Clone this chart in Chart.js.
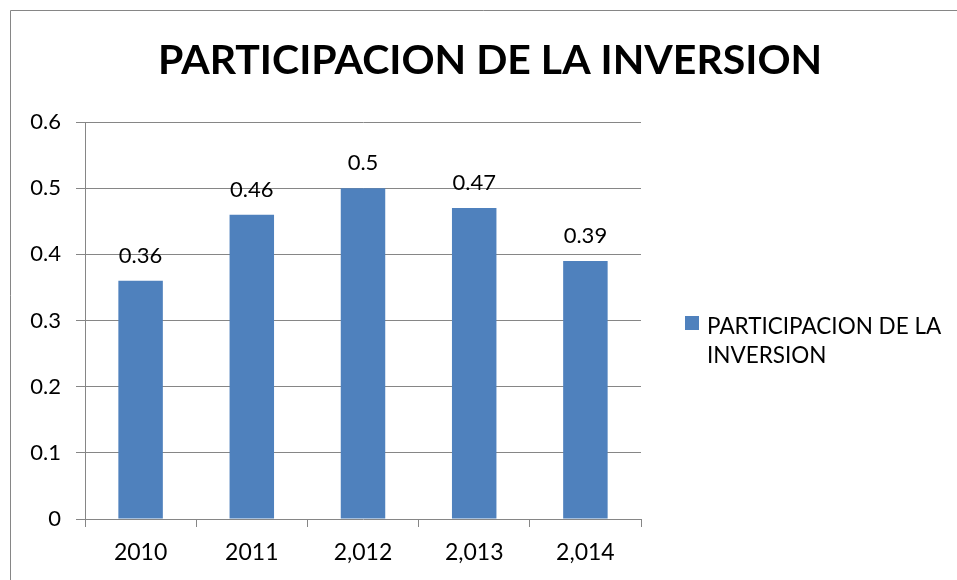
<!DOCTYPE html>
<html lang="es">
<head>
    <meta charset="UTF-8">
    <title>Participacion de la inversion</title>
    <script src="https://cdn.jsdelivr.net/npm/chart.js"></script>
    <style>
        body {
            margin: 0;
            background-color: #fff;
            overflow: hidden;
        }
        #wrap {
            width: 957px;
            height: 580px;
        }
    </style>
</head>
<body>
    <div id="wrap">
        <canvas id="inversionCanvas" width="957" height="580"></canvas>
    </div>

    <script>
        // Data
        const years = ['2010', '2011', '2,012', '2,013', '2,014'];
        const participacion = [0.36, 0.46, 0.5, 0.47, 0.39];
        const yTicks = [0, 0.1, 0.2, 0.3, 0.4, 0.5, 0.6];
        const titleText = 'PARTICIPACION DE LA INVERSION';
        const legendLines = ['PARTICIPACION DE LA', 'INVERSION'];

        const barColor = '#4F81BD';
        const lineColor = '#868686';
        const fontFamily = 'Lato, "Open Sans", sans-serif';

        // Draws frame, title, value labels and the wrapped legend
        const excelLook = {
            id: 'excelLook',
            afterDraw(chart) {
                const c = chart.ctx;
                c.save();

                // chart frame (only left and top edges are visible)
                c.strokeStyle = lineColor;
                c.lineWidth = 1;
                c.beginPath();
                c.moveTo(10.5, 580);
                c.lineTo(10.5, 10.5);
                c.lineTo(957, 10.5);
                c.stroke();

                // title
                c.fillStyle = '#000';
                c.font = 'bold 41px ' + fontFamily;
                c.textAlign = 'center';
                c.textBaseline = 'middle';
                c.fillText(titleText, 490, 61);

                // value labels over bars
                c.font = '22px ' + fontFamily;
                c.textBaseline = 'alphabetic';
                const meta = chart.getDatasetMeta(0);
                meta.data.forEach((bar, i) => {
                    c.fillText(String(participacion[i]), bar.x, bar.y - 18);
                });

                // legend
                c.fillStyle = barColor;
                c.fillRect(685, 316, 14, 14);
                c.fillStyle = '#000';
                c.font = '22.5px ' + fontFamily;
                c.textAlign = 'left';
                c.textBaseline = 'middle';
                legendLines.forEach((line, i) => {
                    c.fillText(line, 707, 327 + i * 29);
                });

                c.restore();
            }
        };

        const ctx = document.getElementById('inversionCanvas').getContext('2d');
        const inversionChart = new Chart(ctx, {
            type: 'bar',
            data: {
                labels: years,
                datasets: [{
                    label: titleText,
                    data: participacion,
                    backgroundColor: barColor,
                    borderWidth: 0,
                    categoryPercentage: 1,
                    barPercentage: 0.4
                }]
            },
            options: {
                responsive: false,
                animation: false,
                layout: {
                    padding: { left: 0, top: 122, right: 316, bottom: 11 }
                },
                plugins: {
                    legend: { display: false },
                    title: { display: false },
                    tooltip: { enabled: false }
                },
                scales: {
                    x: {
                        afterFit: (scale) => {
                            scale.height = 50;
                        },
                        grid: {
                            offset: true,
                            drawOnChartArea: false,
                            drawTicks: true,
                            tickLength: 8,
                            color: lineColor
                        },
                        border: { display: false },
                        ticks: {
                            color: '#000',
                            padding: 12,
                            font: { family: fontFamily, size: 23 }
                        }
                    },
                    y: {
                        min: 0,
                        max: 0.6,
                        afterBuildTicks: (scale) => {
                            scale.ticks = yTicks.map(v => ({ value: v }));
                        },
                        afterFit: (scale) => {
                            scale.width = 85;
                        },
                        grid: {
                            color: lineColor,
                            tickLength: 9,
                            drawTicks: true
                        },
                        border: { display: true, color: lineColor },
                        ticks: {
                            color: '#000',
                            padding: 15,
                            font: { family: fontFamily, size: 22 },
                            callback: (v) => (v === 0 ? '0' : v.toFixed(1))
                        }
                    }
                }
            },
            plugins: [excelLook]
        });
    </script>
</body>
</html>
